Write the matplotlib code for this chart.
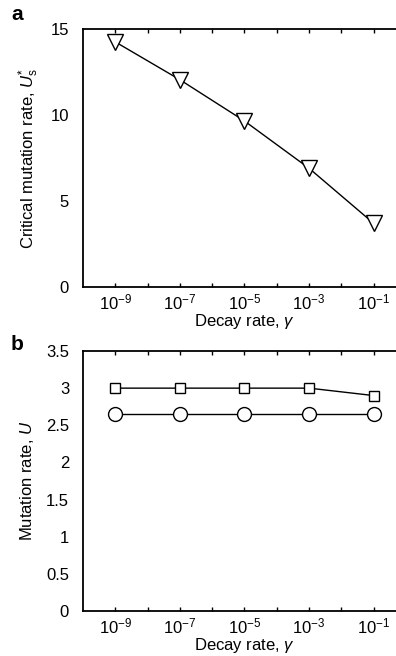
import numpy as np
import matplotlib
matplotlib.use("Agg")
import matplotlib.pyplot as plt
from matplotlib.ticker import FixedLocator

plt.rcParams['font.family'] = ['Liberation Sans', 'DejaVu Sans']
plt.rcParams['mathtext.fontset'] = 'custom'
plt.rcParams['mathtext.rm'] = 'Liberation Sans'
plt.rcParams['mathtext.it'] = 'Liberation Sans:italic'
plt.rcParams['mathtext.sf'] = 'Liberation Sans'

# data
decay = [1e-9, 1e-7, 1e-5, 1e-3, 1e-1]
tick_labels = [r"$10^{-9}$", r"$10^{-7}$", r"$10^{-5}$", r"$10^{-3}$", r"$10^{-1}$"]
critical_u = [14.25, 12.05, 9.65, 6.9, 3.7]
u_squares = [3.0, 3.0, 3.0, 3.0, 2.9]
u_circles = [2.65, 2.65, 2.65, 2.65, 2.65]

W, H = 396, 656
FS = 12
fig = plt.figure(figsize=(W / 100, H / 100), dpi=100)

def px_axes(left, top, right, bottom):
    return fig.add_axes([left / W, 1 - bottom / H, (right - left) / W, (bottom - top) / H])

ax_a = px_axes(83, 29, 406, 287)
ax_b = px_axes(83, 351, 406, 611)

def style(ax):
    ax.set_xscale('log')
    ax.set_xlim(1e-10, 1e0)
    ax.xaxis.set_major_locator(FixedLocator(decay))
    ax.set_xticklabels(tick_labels)
    ax.xaxis.set_minor_locator(FixedLocator([1e-8, 1e-6, 1e-4, 1e-2]))
    ax.xaxis.set_minor_formatter(plt.NullFormatter())
    ax.tick_params(axis='x', which='both', direction='in', top=True, length=3,
                   width=1, labelsize=FS, pad=4)
    ax.tick_params(axis='y', length=0, labelsize=FS, pad=10)
    for s in ax.spines.values():
        s.set_linewidth(1.3)
    ax.set_xlabel(r"Decay rate, $\gamma$", fontsize=FS, labelpad=0)

style(ax_a)
ax_a.plot(decay, critical_u, color='black', lw=1.0, marker='v', ms=11,
          mfc='white', mec='black', mew=1.0)
ax_a.set_ylim(0, 15)
ax_a.set_yticks([0, 5, 10, 15])
ax_a.set_ylabel(r"Critical mutation rate, $U^{*}_{\rm s}$", fontsize=FS, labelpad=7)

style(ax_b)
ax_b.plot(decay, u_squares, color='black', lw=1.0, marker='s', ms=7.5,
          mfc='white', mec='black', mew=1.0)
ax_b.plot(decay, u_circles, color='black', lw=1.0, marker='o', ms=10,
          mfc='white', mec='black', mew=1.0)
ax_b.set_ylim(0, 3.5)
ax_b.set_yticks([0, 0.5, 1, 1.5, 2, 2.5, 3, 3.5])
ax_b.set_yticklabels(['0', '0.5', '1', '1.5', '2', '2.5', '3', '3.5'])
ax_b.set_ylabel(r"Mutation rate, $U$", fontsize=FS, labelpad=7)

fig.text(11 / W, 1 - 14 / H, 'a', fontsize=15, fontweight='bold', va='center', ha='left')
fig.text(11 / W, 1 - 344 / H, 'b', fontsize=15, fontweight='bold', va='center', ha='left')

fig.savefig('out.png', dpi=100)
